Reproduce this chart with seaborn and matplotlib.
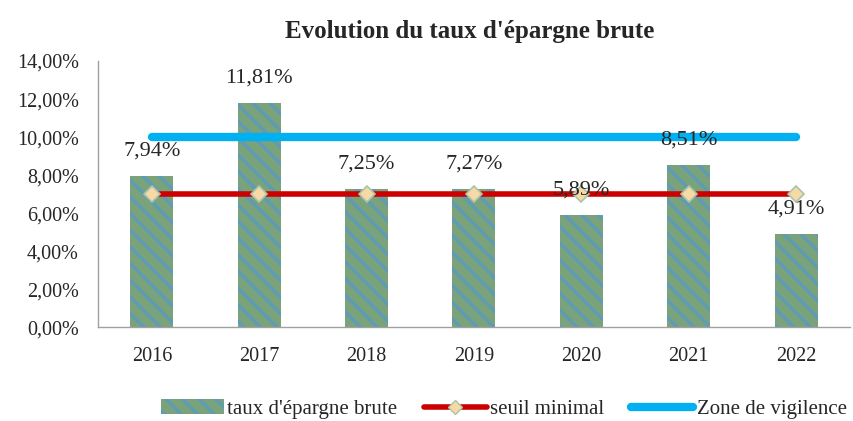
import matplotlib
matplotlib.use("Agg")
import matplotlib.pyplot as plt
import seaborn as sns
import pandas as pd
from matplotlib.patches import Patch
from matplotlib.lines import Line2D

# values
years = ["2016", "2017", "2018", "2019", "2020", "2021", "2022"]
taux = [7.94, 11.81, 7.25, 7.27, 5.89, 8.51, 4.91]
seuil = [7, 7, 7, 7, 7, 7, 7]
vigilence = [10, 10, 10, 10, 10, 10, 10]

sns.set_style("white")
plt.rcParams["font.family"] = ["Liberation Serif", "DejaVu Serif"]
plt.rcParams["hatch.linewidth"] = 2.5

df = pd.DataFrame({"annee": years, "taux": taux})

fig = plt.figure(figsize=(8.54, 4.21), dpi=100)
ax = fig.add_axes([0.115, 0.223, 0.88, 0.632])

bar_col = "#7aa37c"
stripe = "#5f9cb4"
sns.barplot(data=df, x="annee", y="taux", color=bar_col, width=0.4,
            saturation=1, ax=ax)
for p in ax.patches:
    p.set_hatch("\\\\")
    p.set_edgecolor(stripe)
    p.set_linewidth(0)

xs = range(len(years))
ax.plot(xs, vigilence, color="#00b0f0", lw=6, solid_capstyle="round", zorder=3)
ax.plot(xs, seuil, color="#cc0000", lw=4, solid_capstyle="butt", zorder=4,
        marker="D", markersize=8, markerfacecolor="#f7d9a6",
        markeredgecolor="#a9c4a8", markeredgewidth=1.2)

for i, v in enumerate(taux):
    ax.annotate(f"{v:.2f}%".replace(".", ","), (i, v), xytext=(0, 18),
                textcoords="offset points", ha="center", va="center",
                fontsize=16, zorder=5)

ax.set_ylim(0, 14)
ax.set_xlim(-0.5, len(years) - 0.5)
ax.set_yticks(range(0, 15, 2))
ax.set_yticklabels([f"{t:.2f}%".replace(".", ",") for t in range(0, 15, 2)])
ax.tick_params(axis="y", length=0, pad=14, labelsize=14.5)
ax.tick_params(axis="x", length=0, pad=14, labelsize=14.5)
ax.set_xlabel("")
ax.set_ylabel("")
for s in ["top", "right"]:
    ax.spines[s].set_visible(False)
for s in ["left", "bottom"]:
    ax.spines[s].set_color("#a0a0a0")
    ax.spines[s].set_linewidth(1)

fig.text(0.55, 0.925, "Evolution du taux d'épargne brute", ha="center",
         va="center", fontsize=18, fontweight="bold")

handles = [
    Patch(facecolor=bar_col, edgecolor=stripe, hatch="\\\\", linewidth=0),
    Line2D([], [], color="#cc0000", lw=4, marker="D", markersize=7,
           markerfacecolor="#f7d9a6", markeredgecolor="#a9c4a8"),
    Line2D([], [], color="#00b0f0", lw=6, solid_capstyle="round"),
]
fig.legend(handles, ["taux d'épargne brute", "seuil minimal", "Zone de vigilence"],
           loc="center", bbox_to_anchor=(0.59, 0.028), ncol=3, frameon=False,
           fontsize=15, handlelength=3.0, handletextpad=0.15, columnspacing=1.3)

fig.savefig("out.png", dpi=100)
